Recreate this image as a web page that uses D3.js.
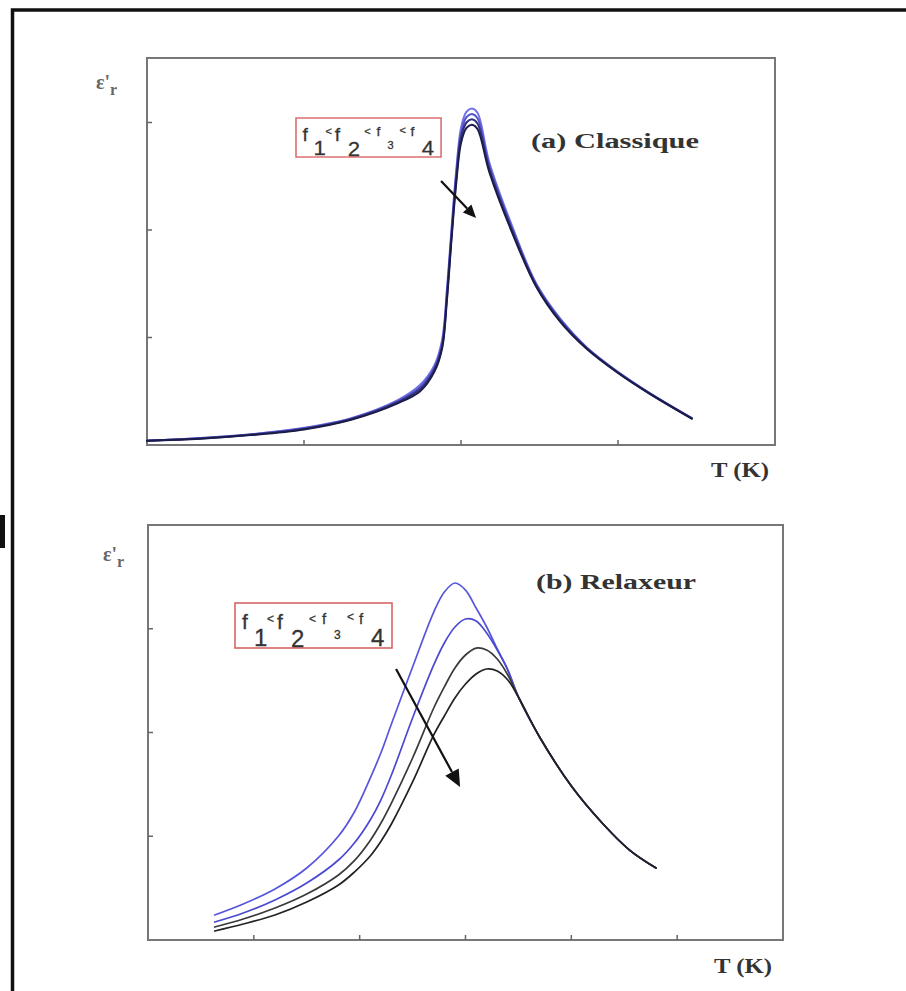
<!DOCTYPE html>
<html>
<head>
<meta charset="utf-8">
<script src="https://cdn.jsdelivr.net/npm/d3@7"></script>
<style>
  body { margin: 0; background: #fff; }
  svg { display: block; }
  .frame { fill: none; stroke: #777; stroke-width: 2; }
  .tick { stroke: #666; stroke-width: 1.5; }
  .title { font-family: "Liberation Serif", serif; font-weight: bold; fill: #333; }
  .eps { font-family: "Liberation Serif", serif; font-weight: bold; fill: #666; }
  .legend { font-family: "Liberation Sans", Arial, sans-serif; fill: #333; stroke: #333; stroke-width: 0.3; }
</style>
</head>
<body>
<svg id="chart" width="906" height="991"></svg>
<script>
// (a) classical ferroelectric: T in arbitrary units, eps'r in arbitrary units
const tempA = [0, 0.34, 0.66, 1.0, 1.3, 1.6, 1.74, 1.83, 1.88, 1.91, 1.94, 1.97, 2.0, 2.035, 2.07, 2.105, 2.18, 2.33, 2.48, 2.63, 2.8, 3.0, 3.2, 3.47];
const epsA1 = [0.04, 0.065, 0.10, 0.16, 0.25, 0.42, 0.56, 0.74, 0.98, 1.44, 2.02, 2.56, 2.95, 3.10, 3.13, 3.09, 2.63, 2.02, 1.50, 1.18, 0.91, 0.68, 0.485, 0.25];
const epsA2 = [0.04, 0.063, 0.098, 0.155, 0.245, 0.41, 0.54, 0.72, 0.95, 1.40, 1.98, 2.52, 2.90, 3.05, 3.08, 3.04, 2.60, 2.00, 1.49, 1.17, 0.905, 0.677, 0.483, 0.25];
const epsA3 = [0.04, 0.06, 0.095, 0.15, 0.24, 0.40, 0.52, 0.70, 0.92, 1.37, 1.95, 2.48, 2.86, 3.00, 3.03, 2.99, 2.57, 1.98, 1.48, 1.16, 0.90, 0.673, 0.48, 0.247];
const epsA4 = [0.04, 0.058, 0.092, 0.145, 0.235, 0.39, 0.50, 0.68, 0.90, 1.34, 1.92, 2.44, 2.81, 2.95, 2.98, 2.94, 2.54, 1.96, 1.47, 1.15, 0.895, 0.67, 0.478, 0.245];

// (b) relaxor
const tempB = [0.63, 0.9, 1.2, 1.5, 1.8, 1.95, 2.1, 2.2, 2.3, 2.5, 2.7, 2.8, 2.9, 3.0, 3.1, 3.2, 3.3, 3.4, 3.5, 3.7, 4.0, 4.3, 4.55, 4.8];
const epsB1 = [0.241, 0.347, 0.492, 0.694, 1.002, 1.234, 1.561, 1.802, 2.082, 2.631, 3.161, 3.354, 3.441, 3.373, 3.2, 3.017, 2.805, 2.602, 2.342, 1.957, 1.484, 1.118, 0.867, 0.694];
const epsB2 = [0.173, 0.26, 0.386, 0.549, 0.771, 0.935, 1.157, 1.349, 1.59, 2.14, 2.651, 2.863, 3.017, 3.094, 3.075, 2.959, 2.795, 2.602, 2.342, 1.957, 1.484, 1.118, 0.867, 0.694];
const epsB3 = [0.125, 0.202, 0.308, 0.443, 0.627, 0.765, 0.96, 1.125, 1.32, 1.754, 2.236, 2.439, 2.622, 2.747, 2.814, 2.795, 2.708, 2.554, 2.342, 1.957, 1.484, 1.118, 0.867, 0.694];
const epsB4 = [0.087, 0.154, 0.241, 0.366, 0.53, 0.655, 0.81, 0.95, 1.118, 1.523, 1.976, 2.159, 2.333, 2.467, 2.564, 2.612, 2.593, 2.506, 2.342, 1.957, 1.484, 1.118, 0.867, 0.694];

const xTicksA = [1, 2, 3];
const yTicksA = [1, 2, 3];
const xTicksB = [1, 2, 3, 4, 5];
const yTicksB = [1, 2, 3];

const titleA = "(a) Classique";
const titleB = "(b) Relaxeur";
const xLabel = "T (K)";

// arrow from f1 towards f4 (data units)
const arrowA = [[1.873, 2.456], [2.096, 2.112]];
const arrowB = [[2.344, 2.612], [2.949, 1.475]];

// legend glyphs: text, x, baseline, font size (relative to legend box)
const legendGlyphs = [
  ["f", 7, 26, 21], ["1", 19, 43, 24], ["<", 32, 20, 12],
  ["f", 42, 26, 21], ["2", 56, 44, 24], ["<", 74, 20, 12],
  ["f", 87, 21, 15], ["3", 99, 36, 12], ["<", 112, 18, 12],
  ["f", 124, 21, 15], ["4", 136, 43, 24]
];

const svg = d3.select("#chart");

// outer page frame and stray mark on the far left
svg.append("rect").attr("x", 0).attr("y", 515).attr("width", 5).attr("height", 33).attr("fill", "#111");
svg.append("path")
  .attr("d", "M12.5,991 V10 H906")
  .attr("fill", "none")
  .attr("stroke", "#111")
  .attr("stroke-width", 3.5);

const drawPanel = (p) => {
  const x = d3.scaleLinear().domain(p.xDomain).range([p.left, p.right]);
  const y = d3.scaleLinear().domain(p.yDomain).range([p.bottom, p.top]);
  const g = svg.append("g");

  g.append("rect")
    .attr("class", "frame")
    .attr("x", p.left).attr("y", p.top)
    .attr("width", p.right - p.left).attr("height", p.bottom - p.top);

  g.selectAll(".xt").data(p.xTicks).join("line")
    .attr("class", "tick")
    .attr("x1", d => x(d)).attr("x2", d => x(d))
    .attr("y1", p.bottom).attr("y2", p.bottom - 5);

  g.selectAll(".yt").data(p.yTicks).join("line")
    .attr("class", "tick")
    .attr("x1", p.left).attr("x2", p.left + 5)
    .attr("y1", d => y(d)).attr("y2", d => y(d));

  const line = d3.line()
    .x(d => x(d[0]))
    .y(d => y(d[1]))
    .curve(d3.curveCatmullRom.alpha(0.5));

  p.series.forEach(s => {
    g.append("path")
      .attr("d", line(p.temp.map((t, i) => [t, s.values[i]])))
      .attr("fill", "none")
      .attr("stroke", s.color)
      .attr("stroke-width", p.lineWidth)
      .attr("stroke-linejoin", "round")
      .attr("stroke-linecap", "round");
  });

  // arrow
  const [a0, a1] = p.arrow;
  const x0 = x(a0[0]), y0 = y(a0[1]), x1 = x(a1[0]), y1 = y(a1[1]);
  const ang = Math.atan2(y1 - y0, x1 - x0);
  const hl = p.headLen, hw = p.headLen * 0.45;
  const bx = x1 - hl * Math.cos(ang), by = y1 - hl * Math.sin(ang);
  g.append("line")
    .attr("x1", x0).attr("y1", y0).attr("x2", bx).attr("y2", by)
    .attr("stroke", "#111").attr("stroke-width", 2.2);
  g.append("path")
    .attr("d", `M${x1},${y1} L${bx + hw * Math.sin(ang)},${by - hw * Math.cos(ang)} L${bx - hw * Math.sin(ang)},${by + hw * Math.cos(ang)} Z`)
    .attr("fill", "#111");

  // title
  g.append("text")
    .attr("class", "title")
    .attr("x", p.title.x).attr("y", p.title.y)
    .attr("font-size", 20)
    .attr("textLength", p.title.w)
    .attr("lengthAdjust", "spacingAndGlyphs")
    .text(p.title.text);

  // x label
  g.append("text")
    .attr("class", "title")
    .attr("x", p.xLab.x).attr("y", p.xLab.y)
    .attr("font-size", 20)
    .attr("textLength", p.xLab.w)
    .attr("lengthAdjust", "spacingAndGlyphs")
    .text(xLabel);

  // y label eps'r
  const eps = g.append("text")
    .attr("class", "eps")
    .attr("x", p.eps.x).attr("y", p.eps.y)
    .attr("font-size", 20);
  eps.append("tspan").text("ε'");
  eps.append("tspan").attr("dy", 6).attr("font-size", 16).text("r");

  // legend box
  const lg = g.append("g")
    .attr("transform", `translate(${p.legend.x},${p.legend.y}) scale(${p.legend.sx},${p.legend.sy})`);
  lg.append("rect")
    .attr("x", 0).attr("y", 0).attr("width", 157).attr("height", 45)
    .attr("fill", "#fff")
    .attr("stroke", "#d86464")
    .attr("stroke-width", 1.6);
  lg.selectAll("text").data(legendGlyphs).join("text")
    .attr("class", "legend")
    .attr("x", d => d[1]).attr("y", d => d[2])
    .attr("font-size", d => d[3])
    .text(d => d[0]);
};

drawPanel({
  left: 147, right: 775, top: 58, bottom: 445,
  xDomain: [0, 4], yDomain: [0, 3.6],
  xTicks: xTicksA, yTicks: yTicksA,
  temp: tempA,
  lineWidth: 2,
  series: [
    { values: epsA1, color: "#7474e4" },
    { values: epsA2, color: "#5252cc" },
    { values: epsA3, color: "#30307e" },
    { values: epsA4, color: "#1c1c48" }
  ],
  arrow: arrowA, headLen: 13,
  title: { text: titleA, x: 531, y: 148, w: 168 },
  xLab: { x: 711, y: 477, w: 58 },
  eps: { x: 96, y: 89 },
  legend: { x: 296, y: 118, sx: 0.924, sy: 0.867 }
});

drawPanel({
  left: 148, right: 783, top: 525, bottom: 940,
  xDomain: [0, 6], yDomain: [0, 4],
  xTicks: xTicksB, yTicks: yTicksB,
  temp: tempB,
  lineWidth: 1.7,
  series: [
    { values: epsB1, color: "#5656dc" },
    { values: epsB2, color: "#4a4ad0" },
    { values: epsB3, color: "#3a3a3a" },
    { values: epsB4, color: "#222" }
  ],
  arrow: arrowB, headLen: 17,
  title: { text: titleB, x: 536, y: 589, w: 160 },
  xLab: { x: 714, y: 973, w: 58 },
  eps: { x: 103, y: 561 },
  legend: { x: 235, y: 603, sx: 1, sy: 1 }
});
</script>
</body>
</html>
